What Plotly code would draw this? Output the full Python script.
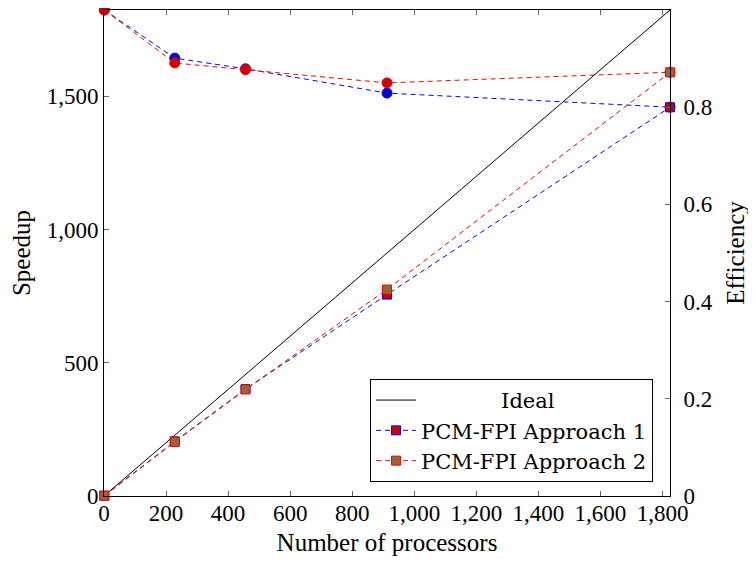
import plotly.graph_objects as go

processors = [1, 228, 456, 912, 1824]
ideal = [1, 228, 456, 912, 1824]
speedup_a1 = [1, 205, 401, 756, 1459]
speedup_a2 = [1, 203, 400, 775, 1590]
eff_a1 = [1.0, 0.901, 0.879, 0.829, 0.80]
eff_a2 = [1.0, 0.891, 0.877, 0.85, 0.872]
x_ticks = [0, 200, 400, 600, 800, 1000, 1200, 1400, 1600, 1800]
speed_ticks = [0, 500, 1000, 1500]
eff_ticks = [0, 0.2, 0.4, 0.6, 0.8, 1]
legend_names = ["\u00a0" * 12 + "Ideal", "PCM-FPI Approach 1", "PCM-FPI Approach 2"]

FONT = "Liberation Serif"
FS = 23
TFONT = dict(family=FONT, size=FS, color="black")
TITLEFONT = dict(family=FONT, size=25, color="black")
LFONT = dict(family="DejaVu Serif", size=21, color="black")
BLUE = "#0000ff"
RED = "#ff0000"
DASH = "5px,4px"

fig = go.Figure()

# Speedup (left axis, overlaying so drawn on top)
fig.add_trace(go.Scatter(x=processors, y=ideal, mode="lines", yaxis="y2", name=legend_names[0],
                         line=dict(color="black", width=1)))
fig.add_trace(go.Scatter(x=processors, y=speedup_a1, mode="lines+markers", yaxis="y2",
                         name=legend_names[1],
                         line=dict(color=BLUE, width=1, dash=DASH),
                         marker=dict(symbol="square", size=9, color="#cc0000", line=dict(color=BLUE, width=1)),
                         cliponaxis=False))
fig.add_trace(go.Scatter(x=processors, y=speedup_a2, mode="lines+markers", yaxis="y2",
                         name=legend_names[2],
                         line=dict(color=RED, width=1, dash=DASH),
                         marker=dict(symbol="square", size=9, color="#996633", line=dict(color=RED, width=1)),
                         cliponaxis=False))

# Efficiency (right axis)
fig.add_trace(go.Scatter(x=processors, y=eff_a1, mode="lines+markers", yaxis="y",
                         line=dict(color=BLUE, width=1, dash=DASH),
                         marker=dict(symbol="circle", size=10, color="#0000cc", line=dict(color=BLUE, width=1)),
                         showlegend=False, cliponaxis=False))
fig.add_trace(go.Scatter(x=processors, y=eff_a2, mode="lines+markers", yaxis="y",
                         line=dict(color=RED, width=1, dash=DASH),
                         marker=dict(symbol="circle", size=10, color="#cc0000", line=dict(color=RED, width=1)),
                         showlegend=False, cliponaxis=False))

fig.update_layout(
    width=748, height=559,
    margin=dict(l=96, r=86, t=2, b=71),
    paper_bgcolor="white", plot_bgcolor="white",
    font=TFONT,
    xaxis=dict(range=[0, 1824], tickvals=x_ticks, tickformat=",", ticks="inside", ticklen=5,
               tickcolor="#666", showline=True, linecolor="black", linewidth=1, mirror="ticks",
               showgrid=False, zeroline=False, automargin=False, tickfont=TFONT,
               ticklabelstandoff=-4,
               title=dict(text="Number of processors", standoff=8, font=TITLEFONT)),
    yaxis2=dict(range=[0, 1824], tickvals=speed_ticks, tickformat=",", ticks="inside", ticklen=5,
                tickcolor="#666", showline=True, linecolor="black", linewidth=1, side="left",
                overlaying="y", showgrid=False, zeroline=False, automargin=False, tickfont=TFONT,
                title=dict(text="Speedup", standoff=10, font=TITLEFONT)),
    yaxis=dict(range=[0, 1], tickvals=eff_ticks, ticks="inside", ticklen=5,
               tickcolor="#666", showline=True, linecolor="black", linewidth=1, side="right",
               showgrid=False, zeroline=False, automargin=False, tickfont=TFONT,
               ticklabelstandoff=8,
               title=dict(text="Efficiency", standoff=14, font=TITLEFONT)),
    legend=dict(x=0.97, y=0.029, xanchor="right", yanchor="bottom", traceorder="normal",
                bordercolor="black", borderwidth=1, bgcolor="white",
                font=LFONT, tracegroupgap=0, itemwidth=40),
)

fig.write_html("out.html")
